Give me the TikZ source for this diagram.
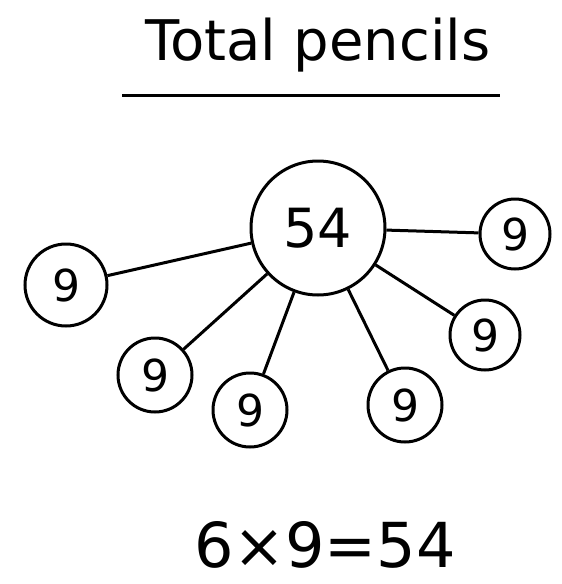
\documentclass[tikz,border=0pt]{standalone}
\usepackage{fontspec}
\setmainfont{DejaVu Sans}
\usetikzlibrary{positioning}

\begin{document}
\begin{tikzpicture}[
        x=1pt, y=1pt,
        line width=3pt,
        whole/.style={draw, circle, minimum size=134pt, inner sep=0pt, font=\fontsize{54}{58}\selectfont},
        part/.style={draw, circle, minimum size=74pt, inner sep=0pt, font=\fontsize{44}{48}\selectfont}
    ]
        \useasboundingbox (0,0) rectangle (562,-584);
        \node[font=\fontsize{56}{62}\selectfont] (title) at (318,-45) {Total pencils};
        \draw (122,-95) -- (500,-95);

        \node[whole] (w) at (318,-228) {54};
        \node[part, minimum size=82pt] (p1) at (66,-285) {9};
        \node[part, minimum size=70pt] (p2) at (515,-234) {9};
        \node[part] (p3) at (155,-375) {9};
        \node[part] (p4) at (250,-410) {9};
        \node[part] (p5) at (405,-405) {9};
        \node[part, minimum size=70pt] (p6) at (485,-335) {9};

        \node[font=\fontsize{62}{68}\selectfont] (eq) at (325,-545) {6×9=54};

\path
        (w) edge (p1)
        (w) edge (p2)
        (w) edge (p3)
        (w) edge (p4)
        (w) edge (p5)
        (w) edge (p6);
\end{tikzpicture}
\end{document}
